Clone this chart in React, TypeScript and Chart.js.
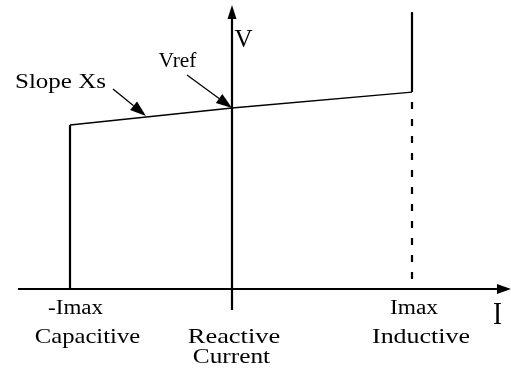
import React, { useEffect, useRef } from "react";
import { Chart, registerables } from "chart.js";

Chart.register(...registerables);

// ---- Data (current in % of Imax-ish units, voltage in p.u.) ----
const currentLimits = [-90, 100]; // -Imax (capacitive), Imax (inductive)
const vrefValue = 1.0; // voltage at zero current
const limitVoltages = [0.906, 1.088]; // voltage at -Imax and Imax
const inductiveTopV = 1.53; // top of inductive vertical segment
const dashStartV = 1.033; // dashed segment start below Imax knee
const xAxisRange = [-118.9, 147.2, 155]; // start, arrow base, arrow tip
const yAxisRange = [-0.116, 1.492, 1.569]; // start, arrow base, arrow tip
const xView = [-128.89, 155];
const yView = [-0.4696, 1.5967];

const slopeArrow = [
  [-66.1, 1.105],
  [-47.8, 0.956],
];
const vrefArrow = [
  [-25, 1.182],
  [0, vrefValue],
];

const labelTexts = ["-Imax", "Capacitive", "Reactive", "Current", "Imax", "Inductive", "I", "V", "Vref", "Slope Xs"];
const labelX = [-86.9, -80.3, 1.1, -0.3, 101.1, 105, 147.5, 6.4, -30.3, -95.3];
const labelY = [-0.138, -0.298, -0.298, -0.409, -0.138, -0.298, -0.193, 1.337, 1.227, 1.11];
const labelSize = [20, 22, 22, 22, 20, 22, 32, 25, 20, 20];
const labelStretch = [1.15, 1.12, 1.2, 1.15, 1.17, 1.18, 0.85, 1.0, 1.07, 1.25];

const FONT = '"Liberation Serif", "Times New Roman", serif';

const pts = (arr: number[][]) => arr.map(([x, y]) => ({ x, y }));

const overlayPlugin = {
  id: "overlay",
  afterDatasetsDraw(chart: any) {
    const ctx = chart.ctx;
    const xs = chart.scales.x;
    const ys = chart.scales.y;
    const px = (v: number) => xs.getPixelForValue(v);
    const py = (v: number) => ys.getPixelForValue(v);
    ctx.save();
    ctx.fillStyle = "#000";
    ctx.strokeStyle = "#000";

    // axis arrowheads
    const tri = (a: number[], b: number[], c: number[]) => {
      ctx.beginPath();
      ctx.moveTo(a[0], a[1]);
      ctx.lineTo(b[0], b[1]);
      ctx.lineTo(c[0], c[1]);
      ctx.closePath();
      ctx.fill();
    };
    // horizontal
    {
      const tipX = px(xAxisRange[2]);
      const baseX = px(xAxisRange[1]);
      const y0 = py(0);
      tri([tipX, y0], [baseX, y0 - 5], [baseX, y0 + 5]);
    }
    // vertical
    {
      const tipY = py(yAxisRange[2]);
      const baseY = py(yAxisRange[1]);
      const x0 = px(0);
      tri([x0, tipY], [x0 - 4.5, baseY], [x0 + 4.5, baseY]);
    }

    // annotation arrows
    const drawArrow = (a: number[][]) => {
      const x1 = px(a[0][0]);
      const y1 = py(a[0][1]);
      const x2 = px(a[1][0]);
      const y2 = py(a[1][1]);
      const ang = Math.atan2(y2 - y1, x2 - x1);
      const hl = 16;
      const hw = 5.5;
      const bx = x2 - hl * Math.cos(ang);
      const by = y2 - hl * Math.sin(ang);
      ctx.lineWidth = 1.3;
      ctx.beginPath();
      ctx.moveTo(x1, y1);
      ctx.lineTo(bx, by);
      ctx.stroke();
      tri(
        [x2, y2],
        [bx + hw * Math.sin(ang), by - hw * Math.cos(ang)],
        [bx - hw * Math.sin(ang), by + hw * Math.cos(ang)]
      );
    };
    drawArrow(slopeArrow);
    drawArrow(vrefArrow);

    // labels
    ctx.textAlign = "center";
    ctx.textBaseline = "alphabetic";
    labelTexts.forEach((t, i) => {
      ctx.save();
      ctx.translate(px(labelX[i]), py(labelY[i]));
      ctx.scale(labelStretch[i], 1);
      ctx.font = `${labelSize[i]}px ${FONT}`;
      ctx.fillText(t, 0, 0);
      ctx.restore();
    });
    ctx.restore();
  },
};

export default function App() {
  const ref = useRef<HTMLCanvasElement | null>(null);
  useEffect(() => {
    if (!ref.current) return;
    const line = (data: any[], width: number, dash: number[] = []) => ({
      data,
      showLine: true,
      borderColor: "#000",
      backgroundColor: "#000",
      borderWidth: width,
      borderDash: dash,
      pointRadius: 0,
      clip: false as any,
      borderCapStyle: "butt",
    });
    const chart = new Chart(ref.current, {
      type: "scatter",
      data: {
        datasets: [
          // axes
          line(pts([[xAxisRange[0], 0], [xAxisRange[1], 0]]), 2.2),
          line(pts([[0, yAxisRange[0]], [0, yAxisRange[1]]]), 2.2),
          // characteristic
          line(pts([[currentLimits[0], 0], [currentLimits[0], limitVoltages[0]]]), 2.2),
          line(
            pts([
              [currentLimits[0], limitVoltages[0]],
              [0, vrefValue],
              [currentLimits[1], limitVoltages[1]],
            ]),
            1.4
          ),
          line(pts([[currentLimits[1], limitVoltages[1]], [currentLimits[1], inductiveTopV]]), 2.2),
          line(pts([[currentLimits[1], dashStartV], [currentLimits[1], 0]]), 2.2, [7, 10]),
        ] as any,
      },
      options: {
        animation: false,
        responsive: false,
        layout: { padding: 0 },
        plugins: { legend: { display: false }, tooltip: { enabled: false } },
        scales: {
          x: { type: "linear", min: xView[0], max: xView[1], display: false },
          y: { type: "linear", min: yView[0], max: yView[1], display: false },
        },
      },
      plugins: [overlayPlugin],
    });
    return () => chart.destroy();
  }, []);
  return (
    <div style={{ position: "fixed", left: 0, top: 0, width: 511, height: 374, background: "#fff" }}>
      <canvas ref={ref} width={511} height={374} style={{ width: 511, height: 374 }} />
    </div>
  );
}
